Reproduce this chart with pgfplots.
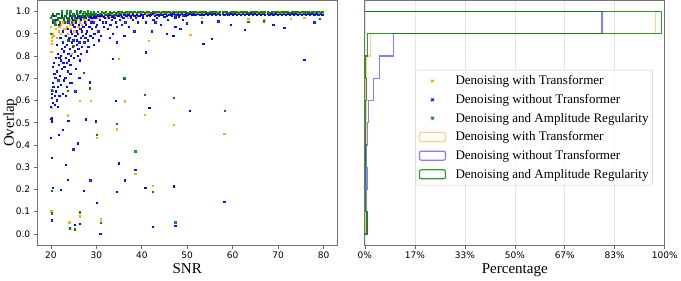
\documentclass[border=0pt]{standalone}
\usepackage{fontspec}
\setmainfont{Liberation Serif}
\newfontfamily\tickfont{DejaVu Sans}
\usepackage{pgfplots}
\usepackage{pgfplotstable}
\pgfplotsset{compat=1.18}
\definecolor{ocol}{RGB}{255,165,0}
\definecolor{bcol}{RGB}{0,0,255}
\definecolor{gcol}{RGB}{0,128,0}

\pgfplotstableread{
snr o b g
20.1 0.93 0.97 0.97
20.4 0.90 0.95 0.99
20.8 0.95 0.98 0.95
21.1 0.92 0.96 0.98
21.5 0.96 0.97 0.96
21.8 0.91 0.94 0.99
22.2 0.94 0.97 0.97
22.5 0.97 0.98 1.00
22.9 0.92 0.96 0.96
23.2 0.95 0.98 0.98
23.6 0.93 0.97 0.99
23.9 0.97 0.95 0.97
24.3 0.94 0.98 1.00
24.6 0.96 0.97 0.98
25.0 0.95 0.96 0.99
25.3 0.97 0.98 0.97
25.7 0.96 0.97 1.00
26.0 0.98 0.975 0.985
26.4 0.95 0.98 0.995
26.7 0.97 0.97 0.98
27.1 0.98 0.975 0.99
27.4 0.96 0.98 0.995
27.8 0.975 0.97 0.985
28.1 0.98 0.98 1.00
28.5 0.97 0.975 0.99
28.8 0.985 0.98 0.995
29.2 0.975 0.97 0.985
29.5 0.98 0.98 0.998
29.9 0.985 0.975 0.99
30.3 0.98 0.982 0.996
30.8 0.975 0.978 0.99
31.2 0.985 0.984 0.999
31.7 0.98 0.976 0.993
32.1 0.99 0.983 0.997
32.6 0.985 0.979 0.99
33.0 0.98 0.985 0.998
33.5 0.99 0.977 0.994
33.9 0.985 0.982 0.999
34.4 0.98 0.986 0.992
34.8 0.99 0.979 0.997
35.3 0.985 0.983 0.995
35.7 0.99 0.976 0.999
36.2 0.985 0.985 0.993
36.6 0.99 0.98 0.998
37.1 0.985 0.984 0.995
37.5 0.99 0.978 0.999
38.0 0.995 0.986 0.994
38.4 0.985 0.981 0.997
38.9 0.99 0.984 0.992
39.3 0.995 0.979 0.999
39.8 0.99 0.985 0.995
40.2 0.985 0.982 0.998
40.7 0.995 0.987 0.994
41.1 0.99 0.981 0.999
41.6 0.995 0.985 0.996
42.0 0.99 0.983 0.993
42.5 0.995 0.987 0.998
42.9 0.99 0.98 0.995
43.4 0.995 0.985 0.999
43.8 0.99 0.982 0.996
44.3 0.995 0.986 0.993
44.7 0.99 0.983 0.998
45.2 0.995 0.987 0.995
45.6 0.99 0.981 0.999
46.1 0.995 0.985 0.996
46.5 0.99 0.983 0.994
47.0 0.995 0.987 0.999
47.4 0.99 0.982 0.996
47.9 0.995 0.986 0.993
48.3 0.99 0.984 0.998
48.8 0.995 0.987 0.995
49.2 0.99 0.982 0.999
49.7 0.995 0.986 0.996
50.1 0.99 0.984 0.994
50.6 0.995 0.988 0.998
51.0 0.99 0.983 0.995
51.5 0.995 0.986 0.999
51.9 0.99 0.984 0.996
52.4 0.995 0.988 0.993
52.8 0.99 0.983 0.998
53.3 0.995 0.986 0.995
53.7 0.99 0.984 0.999
54.2 0.995 0.988 0.996
54.6 0.99 0.983 0.994
55.1 0.995 0.987 0.998
55.5 0.99 0.984 0.995
56.0 0.995 0.988 0.999
56.4 0.99 0.983 0.996
56.9 0.995 0.987 0.993
57.3 0.99 0.985 0.998
57.8 0.995 0.988 0.995
58.2 0.99 0.984 0.999
58.7 0.995 0.987 0.996
59.1 0.99 0.985 0.994
59.6 0.995 0.988 0.998
60.0 0.99 0.984 0.995
60.5 0.995 0.987 0.999
60.9 0.99 0.985 0.996
61.4 0.995 0.988 0.993
61.8 0.99 0.984 0.998
62.3 0.995 0.987 0.995
62.7 0.99 0.985 0.999
63.2 0.995 0.988 0.996
63.6 0.99 0.984 0.994
64.1 0.995 0.987 0.998
64.5 0.99 0.985 0.995
65.0 0.995 0.988 0.999
65.4 0.99 0.984 0.996
65.9 0.995 0.987 0.993
66.3 0.99 0.985 0.998
66.8 0.995 0.988 0.995
67.2 0.99 0.984 0.999
67.7 0.995 0.987 0.996
68.1 0.99 0.985 0.994
68.6 0.995 0.988 0.998
69.0 0.99 0.984 0.995
69.5 0.995 0.987 0.999
69.9 0.99 0.985 0.996
70.4 0.995 0.988 0.993
70.8 0.99 0.984 0.998
71.3 0.995 0.987 0.995
71.7 0.99 0.985 0.999
72.2 0.995 0.988 0.996
72.6 0.99 0.984 0.994
73.1 0.995 0.987 0.998
73.5 0.99 0.985 0.995
74.0 0.995 0.988 0.999
74.4 0.99 0.984 0.996
74.9 0.995 0.987 0.993
75.3 0.99 0.985 0.998
75.8 0.995 0.988 0.995
76.2 0.99 0.984 0.999
76.7 0.995 0.987 0.996
77.1 0.99 0.985 0.994
77.6 0.995 0.988 0.998
78.0 0.99 0.984 0.995
78.5 0.995 0.987 0.999
78.9 0.99 0.985 0.996
79.4 0.995 0.988 0.993
79.8 0.99 0.984 0.998
}\bandtable

\pgfplotstableread{
snr y
20.15 0.819
20.3 0.855
20.3 0.868
20.2 0.88
24.7 0.808
35.0 0.786
41.6 0.868
50.7 0.895
20.3 0.566
23.7 0.532
26.4 0.596
28.8 0.596
36.3 0.595
40.7 0.536
34.6 0.469
47.1 0.490
58.2 0.448
30.1 0.431
38.6 0.269
42.5 0.216
20.15 0.103
24.1 0.051
26.4 0.078
31.0 0.065
53.2 0.970
63.5 0.966
67.0 0.962
72.8 0.965
75.8 0.970
20.6 0.89
21.0 0.95
21.4 0.88
21.9 0.93
22.3 0.90
22.7 0.95
23.1 0.89
23.4 0.92
23.8 0.90
24.1 0.96
24.5 0.92
24.9 0.94
25.2 0.91
25.6 0.95
26.1 0.93
26.5 0.96
26.9 0.94
27.3 0.97
27.7 0.95
28.2 0.96
28.6 0.975
29.0 0.96
29.4 0.97
29.8 0.975
30.5 0.97
31.4 0.975
32.3 0.97
33.1 0.975
34.0 0.97
35.5 0.975
37.0 0.97
38.7 0.98
}\orangextra

\pgfplotstableread{
snr y
20.1 0.57
20.2 0.61
20.3 0.63
20.5 0.59
20.6 0.66
20.8 0.72
20.9 0.62
20.4 0.68
20.7 0.77
20.2 0.52
20.9 0.58
20.5 0.75
21.0 0.70
21.1 0.64
21.2 0.79
21.3 0.60
21.4 0.73
21.5 0.66
21.6 0.81
21.7 0.69
21.8 0.76
21.9 0.62
21.3 0.85
21.6 0.57
21.9 0.79
22.0 0.71
22.1 0.88
22.2 0.67
22.3 0.78
22.4 0.83
22.5 0.74
22.6 0.63
22.7 0.86
22.8 0.77
22.9 0.69
22.2 0.80
22.6 0.91
22.9 0.82
23.0 0.75
23.1 0.84
23.2 0.70
23.3 0.89
23.4 0.79
23.5 0.66
23.6 0.85
23.7 0.73
23.8 0.92
23.9 0.81
23.3 0.62
23.6 0.77
23.9 0.87
24.0 0.78
24.1 0.88
24.2 0.83
24.3 0.72
24.4 0.91
24.5 0.80
24.6 0.86
24.7 0.68
24.8 0.94
24.9 0.84
24.3 0.76
24.6 0.90
25.0 0.87
25.1 0.79
25.2 0.93
25.3 0.82
25.4 0.89
25.5 0.74
25.6 0.95
25.7 0.85
25.8 0.91
25.9 0.80
25.4 0.64
25.8 0.87
26.0 0.90
26.1 0.83
26.2 0.94
26.3 0.86
26.4 0.78
26.5 0.92
26.6 0.88
26.7 0.96
26.8 0.84
26.9 0.91
26.3 0.70
26.7 0.81
27.0 0.89
27.2 0.93
27.4 0.86
27.5 0.95
27.7 0.90
27.9 0.82
27.3 0.97
27.6 0.88
27.8 0.94
28.0 0.91
28.2 0.87
28.4 0.96
28.5 0.93
28.7 0.89
28.9 0.95
28.3 0.84
28.8 0.97
29.0 0.92
29.2 0.88
29.4 0.95
29.6 0.90
29.8 0.97
29.5 0.85
29.9 0.93
30.2 0.94
30.5 0.91
30.8 0.96
31.1 0.89
31.4 0.95
31.7 0.93
31.9 0.97
30.6 0.87
31.3 0.98
32.2 0.95
32.5 0.92
32.8 0.97
33.1 0.94
33.4 0.96
33.7 0.90
34.0 0.97
34.3 0.95
34.6 0.93
34.9 0.98
33.0 0.88
34.5 0.86
35.2 0.96
35.6 0.94
36.0 0.97
36.4 0.95
36.8 0.98
37.2 0.93
37.6 0.97
38.0 0.96
38.4 0.91
38.8 0.97
39.2 0.95
39.6 0.98
36.2 0.89
40.3 0.97
41.0 0.95
41.8 0.98
42.6 0.96
43.4 0.97
44.2 0.94
45.0 0.975
45.8 0.96
46.6 0.98
47.4 0.97
48.2 0.975
49.0 0.96
49.8 0.98
20.15 0.516
20.25 0.505
23.9 0.509
27.8 0.515
29.9 0.506
21.8 0.445
22.7 0.467
20.3 0.644
28.6 0.681
24.3 0.678
36.1 0.696
34.3 0.596
41.7 0.566
50.6 0.554
75.8 0.781
53.6 0.854
55.5 0.877
62.7 0.916
71.4 0.925
69.0 0.940
59.6 0.938
78.0 0.950
47.4 0.930
48.5 0.920
47.0 0.890
45.5 0.900
42.2 0.910
43.0 0.950
49.9 0.946
53.2 0.950
56.9 0.955
41.0 0.816
33.7 0.786
20.1 0.430
20.3 0.341
23.4 0.309
25.0 0.380
25.9 0.407
23.7 0.243
20.4 0.205
22.3 0.196
27.3 0.193
28.7 0.240
30.1 0.139
35.0 0.317
36.3 0.240
34.6 0.190
38.6 0.289
40.8 0.207
47.1 0.213
58.2 0.145
20.2 0.060
24.2 0.024
25.3 0.039
26.4 0.045
30.9 -0.001
42.5 0.031
47.4 0.035
}\bluecloud

\pgfplotstableread{
snr y
20.2 0.647
20.4 0.644
23.8 0.644
28.6 0.654
27.3 0.723
36.2 0.699
40.7 0.624
47.1 0.610
58.3 0.552
34.6 0.493
25.0 0.844
23.7 0.870
20.1 0.900
30.1 0.444
20.3 0.192
20.3 0.092
24.2 0.024
25.3 0.020
26.4 0.097
31.0 0.048
38.6 0.371
42.5 0.190
47.4 0.052
63.5 0.953
66.9 0.955
79.2 0.965
20.3 0.98
20.6 0.96
21.0 0.94
21.3 0.99
21.7 0.97
22.0 0.95
22.4 0.99
22.8 0.97
23.1 0.95
23.5 1.0
23.9 0.96
24.2 0.99
24.6 0.95
25.0 0.98
25.4 0.96
25.8 0.99
26.2 0.97
26.6 1.0
27.0 0.98
27.4 0.97
27.9 0.99
28.3 0.98
28.9 0.985
29.4 0.99
30.0 0.985
31.0 0.99
32.0 0.985
33.0 0.99
34.0 0.985
35.0 0.99
}\greenextra

\pgfplotsset{
  base/.style={
    scale only axis, width=299pt, height=244pt,
    ymin=-0.05, ymax=1.05,
    axis line style={black!55, line width=0.7pt},
    tick style={black!60, line width=0.6pt},
    major tick length=3.5pt, tick align=outside, tick pos=left,
    tick label style={font=\tickfont\fontsize{9}{10}\selectfont},
    label style={font=\fontsize{15}{17}\selectfont},
    /pgf/number format/assume math mode=true,
  },
  sc/.style={only marks, mark=square*, mark size=0.62pt,
    mark options={fill=#1, draw=#1, line width=0pt, opacity=0.8}},
  hs/.style 2 args={draw=#1, draw opacity=#2, line width=1.4pt, sharp plot,
    legend image code/.code={\path[draw=none,fill=none] (0pt,0pt) rectangle (36pt,0pt);
      \draw[draw=#1, draw opacity=#2, fill=none, line width=1.2pt] (2pt,-4.5pt) rectangle (28pt,4.5pt);}},
  dotimg/.style={legend image code/.code={\path[draw=none,fill=none] (0pt,0pt) rectangle (36pt,0pt);
      \fill[#1] (14.3pt,-0.7pt) rectangle (15.7pt,0.7pt);}},
}

\begin{document}
\begin{tikzpicture}
\begin{axis}[base,
  xmin=17, xmax=83, xtick={20,30,40,50,60,70,80},
  ytick={0,0.1,0.2,0.3,0.4,0.5,0.6,0.7,0.8,0.9,1},
  yticklabel style={/pgf/number format/.cd, fixed, fixed zerofill, precision=1},
  xlabel={SNR}, ylabel={Overlap},
  xlabel shift=-2pt, ylabel shift=-8pt,
]
\addplot[sc=ocol] table[x=snr,y=o]{\bandtable};
\addplot[sc=ocol] table[x=snr,y=y]{\orangextra};
\addplot[sc=bcol] table[x=snr,y=b]{\bandtable};
\addplot[sc=bcol] table[x=snr,y=y]{\bluecloud};
\addplot[sc=gcol] table[x=snr,y=g]{\bandtable};
\addplot[sc=gcol] table[x=snr,y=y]{\greenextra};
\end{axis}

\begin{axis}[base, at={(326.6pt,0pt)},
  xmin=0, xmax=1, ytick=\empty,
  xtick={0,0.166667,0.333333,0.5,0.666667,0.833333,1},
  xticklabels={0\%,17\%,33\%,50\%,67\%,83\%,100\%},
  xmajorgrids, grid style={black!10, line width=0.6pt},
  xlabel={Percentage}, xlabel shift=-2pt,
  legend cell align=left,
  legend style={at={(0.96,0.48)}, anchor=east,
    font=\fontsize{13}{15}\selectfont,
    draw=black!20, rounded corners=2pt, fill=white, fill opacity=0.8, text opacity=1,
    row sep=4pt, inner xsep=2pt, inner ysep=3.5pt},
]
\addlegendimage{dotimg=ocol}
\addlegendentry{Denoising with Transformer}
\addlegendimage{dotimg=bcol}
\addlegendentry{Denoising without Transformer}
\addlegendimage{dotimg=gcol}
\addlegendentry{Denoising and Amplitude Regularity}
\addplot[hs={ocol}{0.5}] coordinates {(0,0) (0.003,0) (0.003,0.1) (0.001,0.1) (0.001,0.2) (0.002,0.2) (0.002,0.3) (0,0.3) (0,0.4) (0.004,0.4) (0.004,0.5) (0.005,0.5) (0.005,0.6) (0.002,0.6) (0.002,0.7) (0.004,0.7) (0.004,0.8) (0.019,0.8) (0.019,0.9) (0.969,0.9) (0.969,1.0) (0,1.0)};
\addlegendentry{Denoising with Transformer}
\addplot[hs={bcol}{0.5}] coordinates {(0,0) (0.007,0) (0.007,0.1) (0.005,0.1) (0.005,0.2) (0.007,0.2) (0.007,0.3) (0.004,0.3) (0.004,0.4) (0.008,0.4) (0.008,0.5) (0.013,0.5) (0.013,0.6) (0.028,0.6) (0.028,0.7) (0.049,0.7) (0.049,0.8) (0.096,0.8) (0.096,0.9) (0.791,0.9) (0.791,1.0) (0,1.0)};
\addlegendentry{Denoising without Transformer}
\addplot[hs={gcol}{0.8}] coordinates {(0,0) (0.007,0) (0.007,0.1) (0.002,0.1) (0.002,0.2) (0,0.2) (0,0.3) (0.001,0.3) (0.001,0.4) (0.002,0.4) (0.002,0.5) (0.001,0.5) (0.001,0.6) (0.005,0.6) (0.005,0.7) (0.001,0.7) (0.001,0.8) (0.008,0.8) (0.008,0.9) (0.989,0.9) (0.989,1.0) (0,1.0)};
\addlegendentry{Denoising and Amplitude Regularity}
\end{axis}
\end{tikzpicture}
\end{document}
